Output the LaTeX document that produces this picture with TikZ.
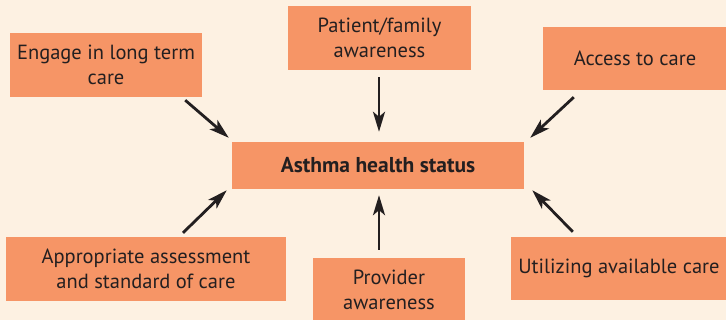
\documentclass[tikz,border=0pt]{standalone}
\usepackage{fontspec}
\setmainfont{PT Sans}
\usetikzlibrary{arrows.meta}
\definecolor{bgc}{HTML}{FDF1E2}
\definecolor{boxc}{HTML}{F69566}
\definecolor{txtc}{HTML}{231F20}
\tikzset{
  box/.style={fill=boxc, draw=none, inner sep=0pt, align=center, text=txtc,
    font=\fontsize{20.5}{25}\selectfont},
  arr/.style={draw=txtc, line width=2.8pt, -{Stealth[length=20pt,width=12pt,inset=5pt]}}
}
\begin{document}
\begin{tikzpicture}[x=1pt,y=-1pt]
\fill[bgc] (0,0) rectangle (726,320);
\useasboundingbox (0,0) rectangle (726,320);
\node[box, minimum width=192pt, minimum height=64pt] (engage) at (106,65) {Engage in long term\\care};
\node[box, minimum width=183pt, minimum height=64pt] (patient) at (379.5,38) {Patient/family\\awareness};
\node[box, minimum width=184pt, minimum height=63pt] (access) at (635,58.5) {Access to care};
\node[box, minimum width=292pt, minimum height=47pt, font=\fontsize{21.5}{25}\selectfont\bfseries] (center) at (378,165.5) {Asthma health status};
\node[box, minimum width=280pt, minimum height=64pt] (approp) at (146,269) {Appropriate assessment\\and standard of care};
\node[box, minimum width=152pt, minimum height=64pt] (provider) at (389,290) {Provider\\awareness};
\node[box, minimum width=216pt, minimum height=63pt] (util) at (619,268.5) {Utilizing available care};
\draw[arr] ([xshift=-17pt,yshift=-3pt]engage.south east) -- ([xshift=-3pt,yshift=4pt]center.north west);
\draw[arr] ([xshift=-0.5pt,yshift=-7pt]patient.south) -- ([xshift=1pt,yshift=10pt]center.north);
\draw[arr] ([xshift=31pt,yshift=-7pt]access.south west) -- ([xshift=6pt,yshift=4pt]center.north east);
\draw[arr] ([xshift=37pt,yshift=4pt]approp.north) -- ([xshift=-5pt,yshift=-1pt]center.south west);
\draw[arr] ([xshift=-10pt,yshift=8pt]provider.north) -- ([xshift=1pt,yshift=-6pt]center.south);
\draw[arr] ([xshift=62pt,yshift=5pt]util.north west) -- ([xshift=8pt,yshift=-1pt]center.south east);
\end{tikzpicture}
\end{document}
